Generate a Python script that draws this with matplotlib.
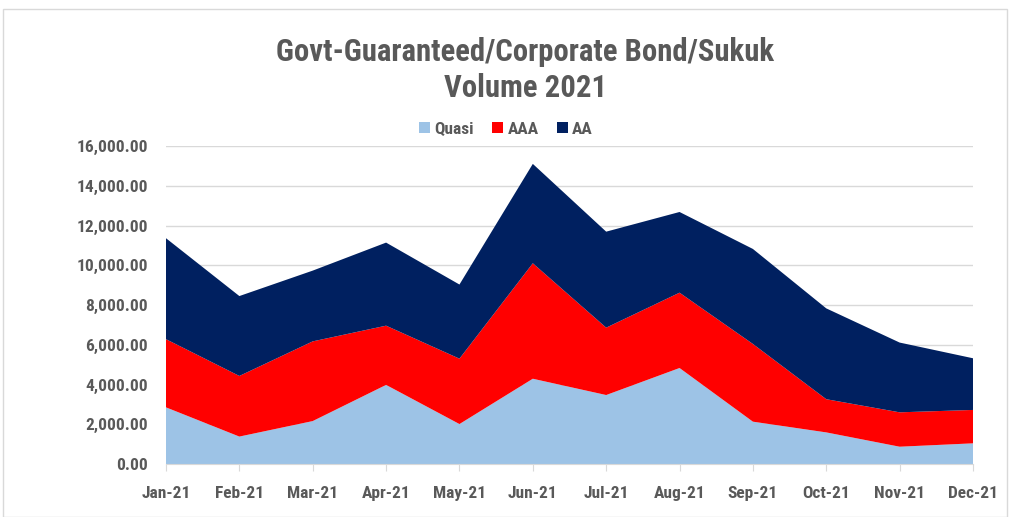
import matplotlib
matplotlib.use("Agg")
import matplotlib.pyplot as plt
from matplotlib.ticker import FuncFormatter, MultipleLocator
from matplotlib.patches import Rectangle
import numpy as np

months = ["Jan-21", "Feb-21", "Mar-21", "Apr-21", "May-21", "Jun-21",
          "Jul-21", "Aug-21", "Sep-21", "Oct-21", "Nov-21", "Dec-21"]
quasi = [2850, 1380, 2160, 3980, 2010, 4290, 3470, 4830, 2130, 1590, 870, 1040]
aaa = [3430, 3050, 4010, 2980, 3290, 5810, 3390, 3790, 3910, 1670, 1730, 1680]
aa = [5080, 4020, 3560, 4180, 3730, 5000, 4830, 4060, 4780, 4570, 3510, 2600]
series_names = ["Quasi", "AAA", "AA"]
colors = ["#9DC3E6", "#FF0000", "#002060"]

plt.rcParams['font.family'] = ['Roboto Condensed', 'Liberation Sans Narrow', 'Lato', 'DejaVu Sans']
txt = "#595959"

fig = plt.figure(figsize=(10.10, 5.17), dpi=100)
fig.patches.append(Rectangle((0.003, 0.0), 0.994, 0.982, transform=fig.transFigure,
                             fill=False, edgecolor="#D9D9D9", linewidth=1.0))
ax = fig.add_axes([166/1010, 1-464/517, (973-166)/1010, (464-146)/517])

x = np.arange(len(months))
ax.stackplot(x, quasi, aaa, aa, colors=colors, labels=series_names, linewidth=0)

ax.set_xlim(0, len(months)-1)
ax.set_ylim(0, 16000)
ax.yaxis.set_major_locator(MultipleLocator(2000))
ax.yaxis.set_major_formatter(FuncFormatter(lambda v, p: f"{v:,.2f}"))
ax.grid(axis='y', color="#D9D9D9", linewidth=1.0)
ax.set_axisbelow(True)
for s in ["top", "right", "left"]:
    ax.spines[s].set_visible(False)
ax.spines["bottom"].set_color("#D9D9D9")
ax.spines["bottom"].set_zorder(5)
ax.set_xticks(x)
ax.set_xticklabels(months)
ax.tick_params(axis='x', length=5, color="#D9D9D9", pad=11, labelsize=12.5, labelcolor=txt)
ax.tick_params(axis='y', length=0, pad=13, labelsize=12.5, labelcolor=txt)
for lab in ax.get_xticklabels() + ax.get_yticklabels():
    lab.set_fontweight('bold')

t1 = fig.text(0.52, 1-52/517, "Govt-Guaranteed/Corporate Bond/Sukuk", ha='center', va='center',
              fontsize=20, fontweight='bold', color=txt)
t2 = fig.text(0.52, 1-88/517, "Volume 2021", ha='center', va='center',
              fontsize=20, fontweight='bold', color=txt)

leg = fig.legend(loc='center', bbox_to_anchor=(506/1010, 1-129/517), ncol=3, frameon=False,
                 handlelength=0.63, handleheight=0.63, handletextpad=0.25, columnspacing=1.05,
                 prop={'weight': 'bold', 'size': 12.5})
for t in leg.get_texts():
    t.set_color(txt)

# fit title width to the reference (~498 px)
r = fig.canvas.get_renderer()
w = t1.get_window_extent(r).width
fs = 20 * 498 / w
t1.set_fontsize(fs)
t2.set_fontsize(fs)

fig.savefig("out.png", dpi=100)
